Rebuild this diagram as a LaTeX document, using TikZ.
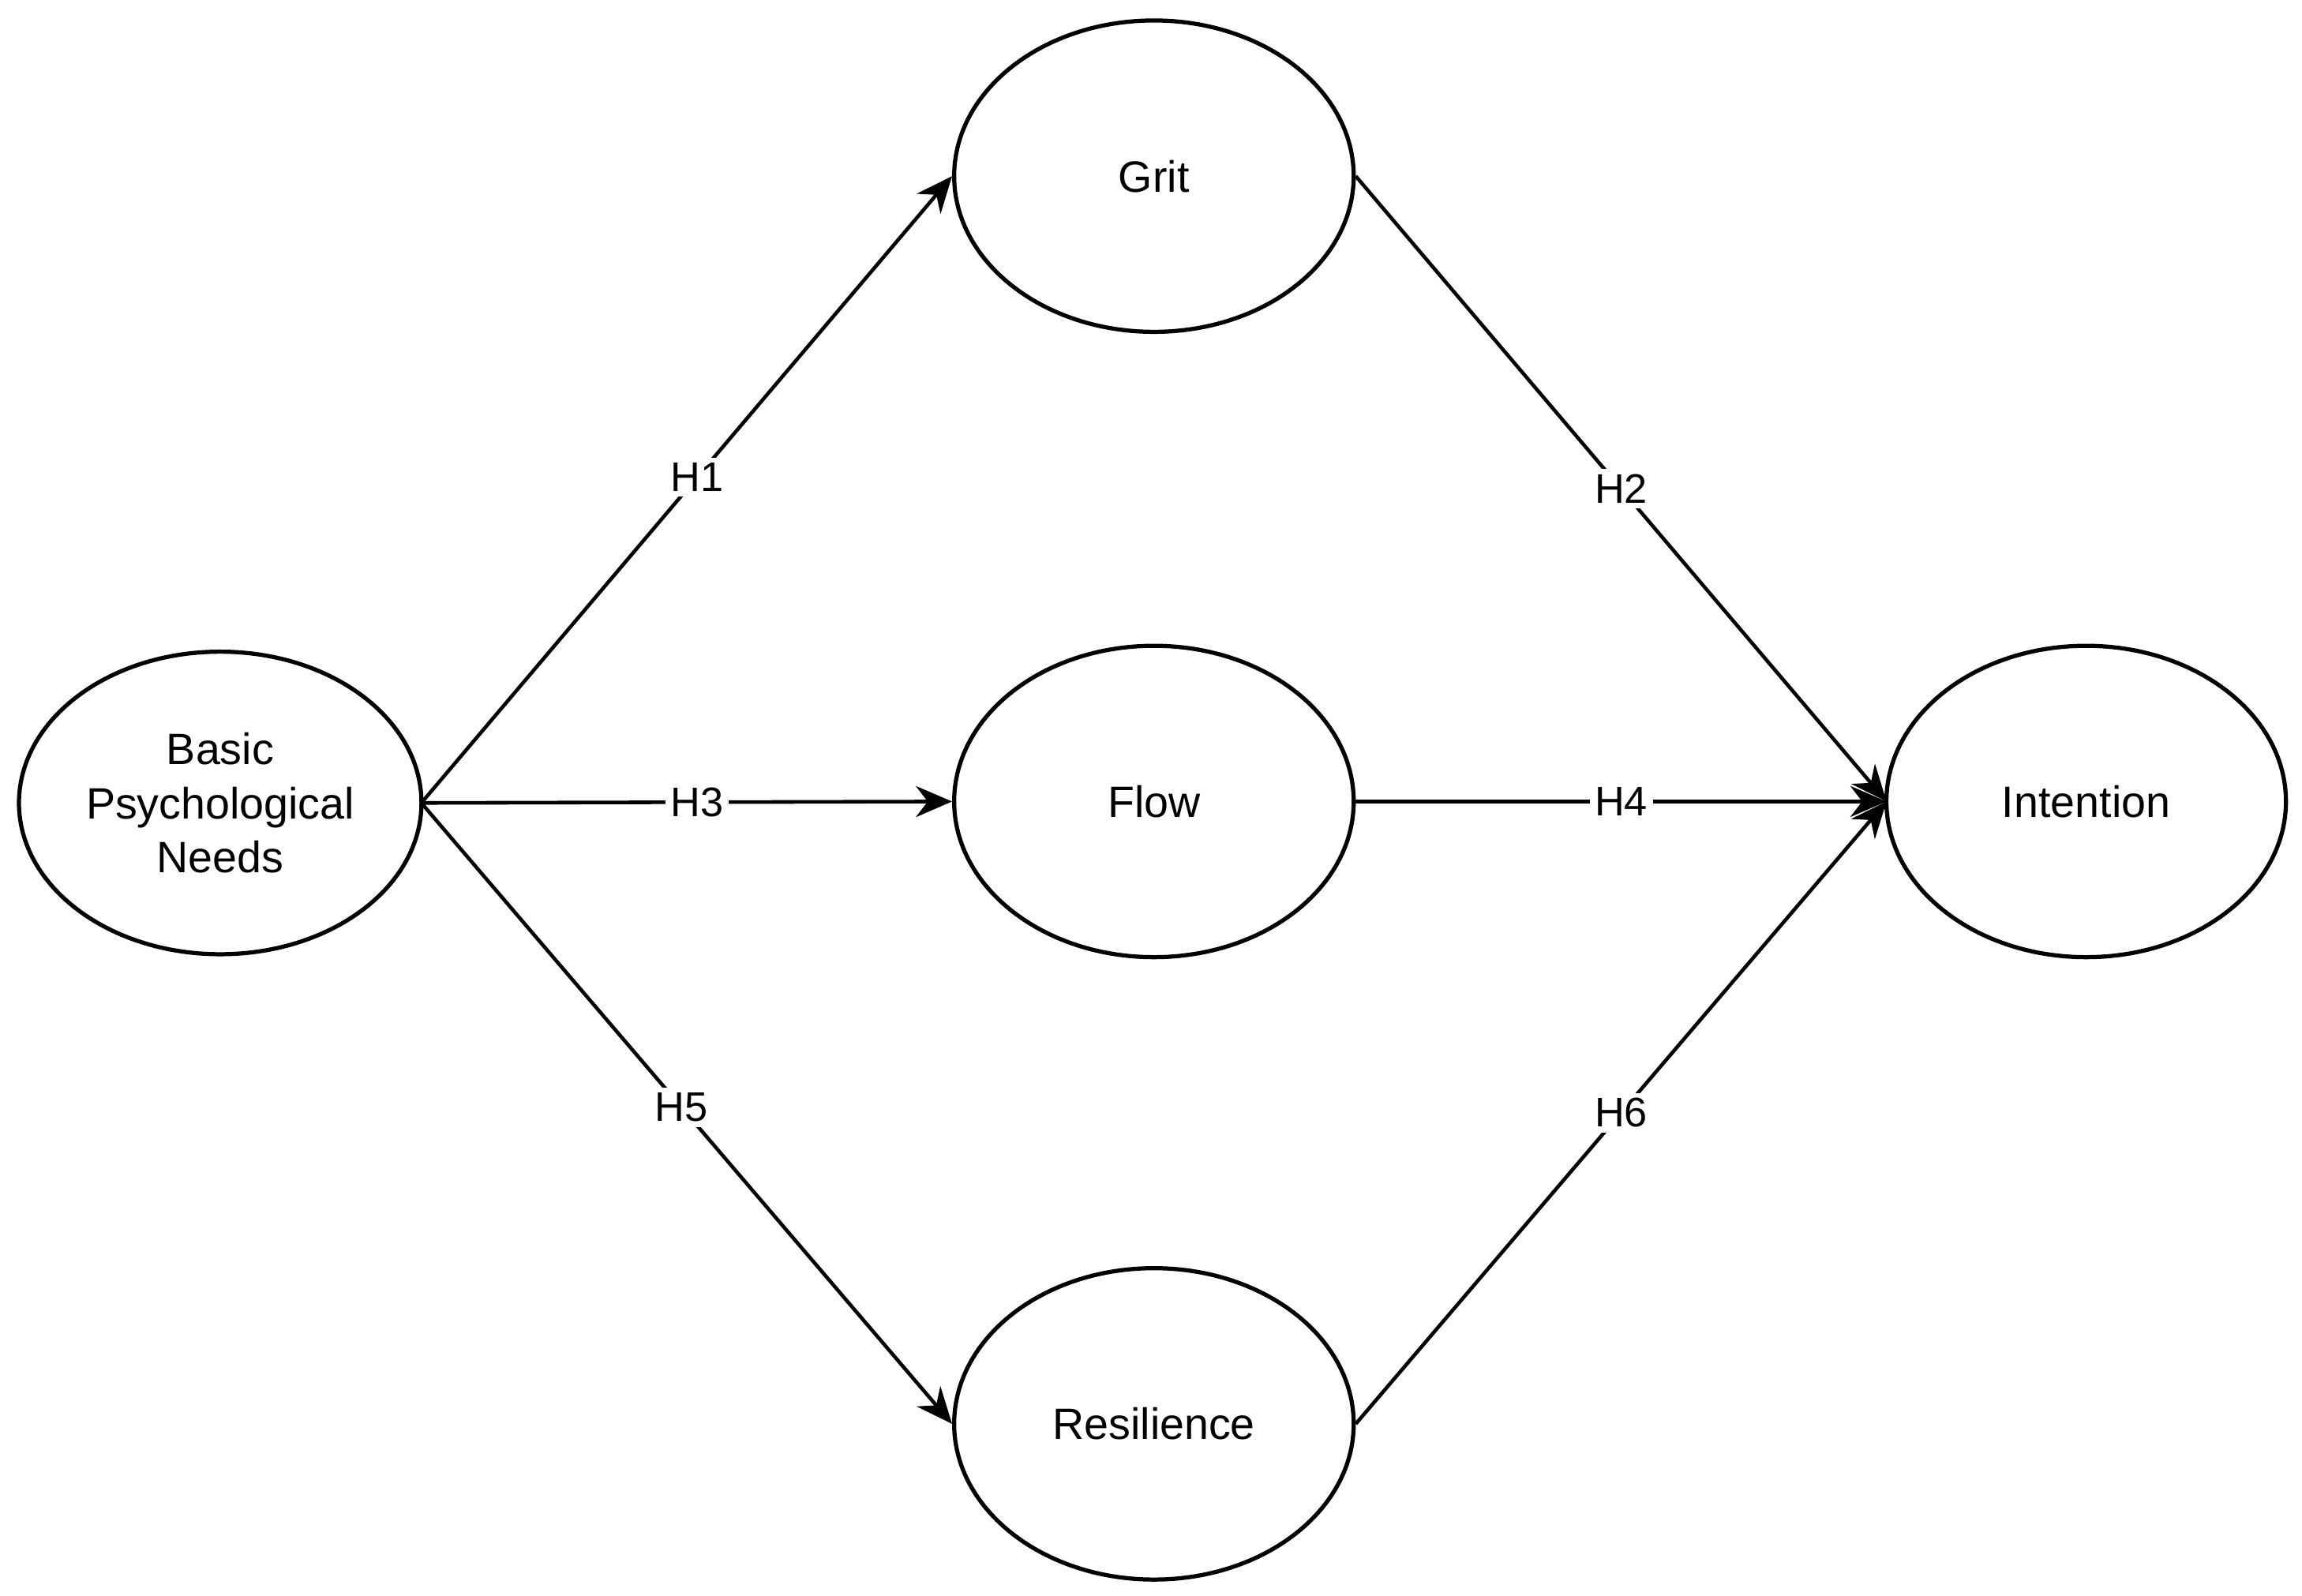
\documentclass[tikz,border=0pt]{standalone}
\usepackage{fontspec}
\setmainfont{Liberation Sans}
\usetikzlibrary{shapes.geometric,arrows.meta}
\begin{document}
\begin{tikzpicture}[x=0.01cm,y=-0.01cm,
  el/.style={draw,line width=0.8pt,ellipse,minimum width=272\pgflinewidth*0+2.72cm,minimum height=2.12cm,inner sep=0pt,font=\fontsize{8.5}{10.5}\selectfont,align=center},
  ar/.style={line width=0.7pt,-{Stealth[length=7pt,width=6pt]}},
  lb/.style={fill=white,inner sep=1pt,font=\fontsize{8}{10}\selectfont}]
\useasboundingbox (0,0) rectangle (1568,1087);
\node[el,minimum width=2.74cm,minimum height=2.06cm] (b) at (150,547) {Basic\\Psychological\\Needs};
\node[el] (g) at (786,120) {Grit};
\node[el] (f) at (786,546) {Flow};
\node[el] (r) at (786,970) {Resilience};
\node[el] (i) at (1421,546) {Intention};
\coordinate (bo) at (287,547);
\coordinate (io) at (1285,546);
\draw[ar] (bo) -- node[lb,pos=0.52]{H1} (g.west);
\draw[ar] (bo) -- node[lb,pos=0.52]{H3} (f.west);
\draw[ar] (bo) -- node[lb,pos=0.49]{H5} (r.west);
\draw[ar] (g.east) -- node[lb,pos=0.5]{H2} (io);
\draw[ar] (f.east) -- node[lb,pos=0.5]{H4} (io);
\draw[ar] (r.east) -- node[lb,pos=0.5]{H6} (io);
\end{tikzpicture}
\end{document}
